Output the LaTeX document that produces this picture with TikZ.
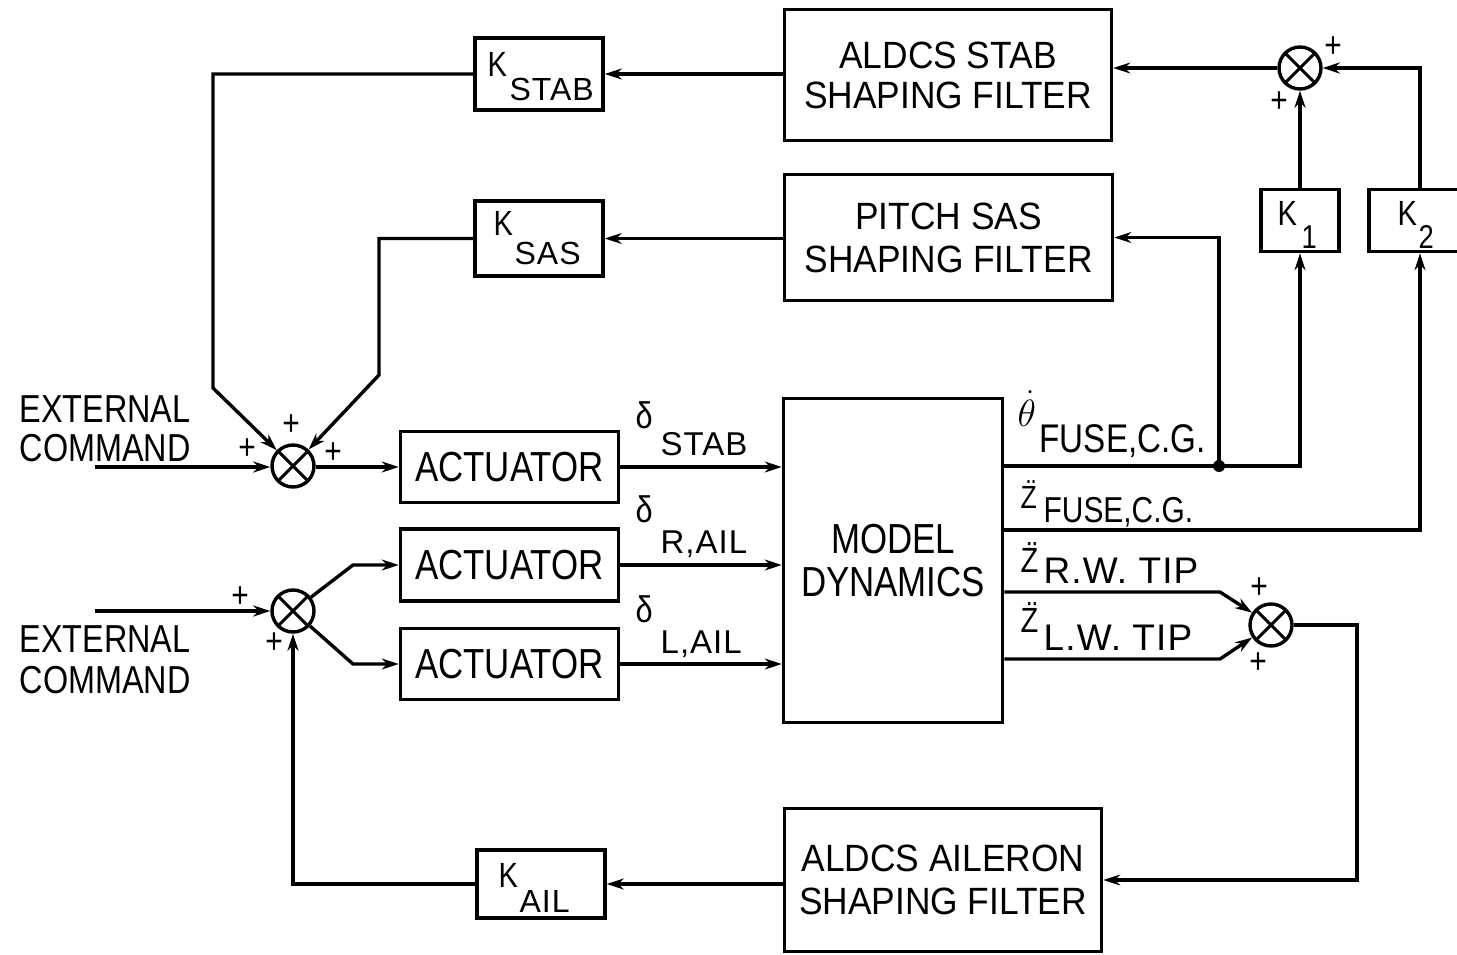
\RequirePackage{fix-cm}
\documentclass[tikz,border=0pt]{standalone}
\usepackage{fontspec}
\setmainfont{Liberation Sans}[FakeStretch=0.83]
\newfontfamily\widef{Liberation Sans}[FakeStretch=0.93]
\newfontfamily\subf{Liberation Sans}[LetterSpace=3]
\usetikzlibrary{arrows.meta,calc}
\newcommand\fsz[2]{\fontsize{#1}{#2}\selectfont}
\begin{document}
\begin{tikzpicture}[x=1pt,y=-1pt,
  line width=3.4pt,
  >={Stealth[length=17pt,width=11pt]},
  blk/.style={draw, rectangle, inner sep=0pt, line width=3.6pt},
  sumj/.style={draw, circle, minimum size=42pt, inner sep=0pt, line width=3.4pt,
    path picture={\draw[line width=3pt] (path picture bounding box.north west) -- (path picture bounding box.south east)
      (path picture bounding box.north east) -- (path picture bounding box.south west);}},
  lbl/.style={inner sep=0pt, anchor=base west},
  pls/.style={inner sep=0pt, font=\fsz{36}{36}},
]
\useasboundingbox (0,0) rectangle (1457,955);

% blocks
\node[blk, minimum width=128pt, minimum height=72pt] (kstab) at (539,74) {};
\node[blk, minimum width=128pt, minimum height=75pt] (ksas) at (539,238.5) {};
\node[blk, minimum width=128pt, minimum height=68pt] (kail) at (541,884) {};
\node[blk, minimum width=327pt, minimum height=131pt, align=center, font=\widef\fsz{38}{40}] (stabf) at (948,75) {ALDCS STAB\\SHAPING FILTER};
\node[blk, minimum width=328pt, minimum height=126pt, align=center, font=\widef\fsz{38}{43}] (sasf) at (948.5,237.5) {PITCH SAS\\SHAPING FILTER};
\node[blk, minimum width=317pt, minimum height=143pt, align=center, font=\widef\fsz{38}{43}] (ailf) at (943,880) {ALDCS AILERON\\SHAPING FILTER};
\node[blk, minimum width=218pt, minimum height=71pt, font=\fsz{42}{44}] (act1) at (509.5,467) {ACTUATOR};
\node[blk, minimum width=218pt, minimum height=72pt, font=\fsz{42}{44}] (act2) at (509.5,565) {ACTUATOR};
\node[blk, minimum width=218pt, minimum height=71pt, font=\fsz{42}{44}] (act3) at (509.5,664) {ACTUATOR};
\node[blk, minimum width=219pt, minimum height=324pt, align=center, font=\fsz{42}{43}] (md) at (893,560.5) {MODEL\\DYNAMICS};
\node[blk, minimum width=78pt, minimum height=62pt] (k1) at (1300,220.5) {};
\node[blk, minimum width=102pt, minimum height=62pt] (k2) at (1420,220.5) {};

% summing junctions
\node[sumj] (sj1) at (293,466) {};
\node[sumj] (sj2) at (293,611) {};
\node[sumj] (sj3) at (1300,68) {};
\node[sumj] (sj4) at (1271,625) {};

% texts
\node[lbl, font=\fsz{39}{39}] (ext1a) at (18,422) {EXTERNAL};
\node[lbl, font=\fsz{39}{39}] (ext1b) at (18,461) {COMMAND};
\node[lbl, font=\fsz{39}{39}] (ext2a) at (18,652) {EXTERNAL};
\node[lbl, font=\fsz{39}{39}] (ext2b) at (18,693) {COMMAND};

\node[lbl, font=\fsz{35}{35}] (kstabK) at (486,77) {K};
\node[lbl, font=\subf\fsz{32}{32}] (kstabS) at (508,101) {STAB};
\node[lbl, font=\fsz{35}{35}] (ksasK) at (492,235) {K};
\node[lbl, font=\subf\fsz{32}{32}] (ksasS) at (513,264) {SAS};
\node[lbl, font=\fsz{35}{35}] (kailK) at (497,887) {K};
\node[lbl, font=\subf\fsz{32}{32}] (kailS) at (518,912) {AIL};
\node[lbl, font=\fsz{35}{35}] (k1K) at (1276,225) {K};
\node[lbl, font=\fsz{33}{33}] (k1S) at (1300,248) {1};
\node[lbl, font=\fsz{35}{35}] (k2K) at (1396,225) {K};
\node[lbl, font=\fsz{33}{33}] (k2S) at (1417,248) {2};

\node[lbl, font=\fsz{37}{37}] (d1) at (634,428) {δ};
\node[lbl, font=\subf\fsz{33}{33}] (d1s) at (659,455) {STAB};
\node[lbl, font=\fsz{37}{37}] (d2) at (634,522) {δ};
\node[lbl, font=\subf\fsz{33}{33}] (d2s) at (659,553) {R,AIL};
\node[lbl, font=\fsz{37}{37}] (d3) at (634,622) {δ};
\node[lbl, font=\subf\fsz{33}{33}] (d3s) at (659,653) {L,AIL};

\node[lbl, font=\fsz{38}{38}] (th) at (1016,426) {$\dot{\theta}$};
\node[lbl, font=\fsz{40}{40}] (ths) at (1038,452) {FUSE,C.G.};
\node[lbl, font=\fsz{32}{32}] (z2) at (1019,508) {\"Z};
\node[lbl, font=\fsz{36}{36}] (z2s) at (1042,522) {FUSE,C.G.};
\node[lbl, font=\fsz{35}{35}] (z3) at (1019,572) {\"Z};
\node[lbl, font=\subf\fsz{37}{37}] (z3s) at (1042,583) {R.W. TIP};
\node[lbl, font=\fsz{35}{35}] (z4) at (1019,632) {\"Z};
\node[lbl, font=\subf\fsz{37}{37}] (z4s) at (1042,650) {L.W. TIP};

% plus signs
\node[pls] (p1) at (291,425) {+};
\node[pls] (p2) at (247,449) {+};
\node[pls] (p3) at (333,453) {+};
\node[pls] (p4) at (240,597) {+};
\node[pls] (p5) at (274,643) {+};
\node[pls] (p6) at (1333,47) {+};
\node[pls] (p7) at (1279,102) {+};
\node[pls] (p8) at (1259,588) {+};
\node[pls] (p9) at (1258,663) {+};

% coordinates
\coordinate (in1) at (95,467);
\coordinate (in2) at (95,611);
\coordinate (c1) at (213,388);
\coordinate (c2) at (379,375);
\coordinate (c3) at (353,565);
\coordinate (c4) at (353,664);
\coordinate (t1) at (1219,466);
\coordinate (t2) at (1420,530);
\coordinate (c5) at (1220,592);
\coordinate (c6) at (1220,659);
\coordinate (c7) at (1357,880);

% connectors
\draw[->] (stabf.west |- kstab.east) -- (kstab.east);
\draw[->] (kstab.west) -| (c1) -- (sj1);
\draw[->] (sasf.west |- ksas.east) -- (ksas.east);
\draw[->] (ksas.west) -| (c2) -- (sj1);
\draw[->] (in1) -- (in1 -| sj1.west);
\draw[->] (sj1.east |- act1.west) -- (act1.west);
\draw[->] (act1.east) -- (act1.east -| md.west);
\draw[->] (act2.east) -- (act2.east -| md.west);
\draw[->] (act3.east) -- (act3.east -| md.west);
\draw[->] (in2) -- (sj2);
\draw[->] (sj2) -- (c3) -- (act2.west);
\draw[->] (sj2) -- (c4) -- (act3.west);
\draw[->] (kail.west) -| (sj2.south);
\draw[->] (ailf.west |- kail.east) -- (kail.east);
\draw[->] (md.east |- t1) -| (k1.south);
\draw[->] (t1) |- (sasf.east);
\fill (t1) circle (6pt);
\draw[->] (k1.north) -- (sj3.south);
\draw[->] (k2.north) |- (sj3.east);
\draw[->] (sj3.west) -- (sj3.west -| stabf.east);
\draw[->] (md.east |- t2) -| (k2.south);
\draw[->] (md.east |- c5) -- (c5) -- (sj4);
\draw[->] (md.east |- c6) -- (c6) -- (sj4);
\draw[->] (sj4.east) -| (c7) -- (ailf.east);
\end{tikzpicture}
\end{document}
